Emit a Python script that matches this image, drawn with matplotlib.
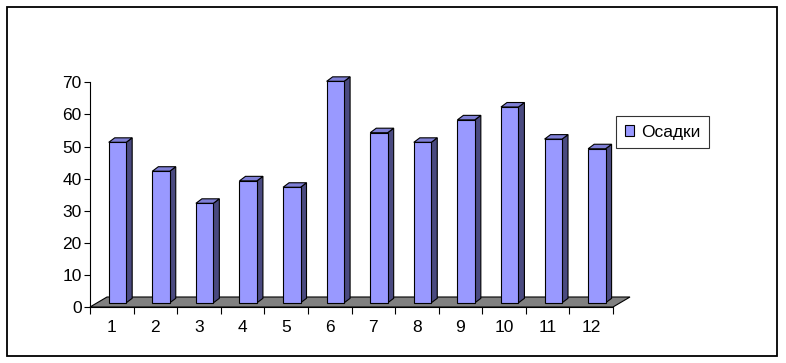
import matplotlib
matplotlib.use("Agg")
import matplotlib.pyplot as plt
from matplotlib.patches import Polygon, Rectangle

plt.rcParams['font.family'] = ['Liberation Sans', 'DejaVu Sans']

# data
months = ['1', '2', '3', '4', '5', '6', '7', '8', '9', '10', '11', '12']
osadki = [50, 41, 31, 38, 36, 69, 53, 50, 57, 61, 51, 48]
series_name = 'Осадки'
yticks = [0, 10, 20, 30, 40, 50, 60, 70]

front_c = '#9999ff'
side_c = '#4a4a80'
top_c = '#7f7fd6'
floor_c = '#808080'

W, H = 786, 363
fig = plt.figure(figsize=(W / 100, H / 100), dpi=100)
ax = fig.add_axes([90 / W, (H - 307) / H, 523 / W, 224.7 / H])
ax.set_xlim(0, 12)
ax.set_ylim(0, 70)

# pseudo 3d offsets (data units)
px_x = 523 / 12.0
px_y = 224.7 / 70.0
fdx, fdy = 17 / px_x, 10 / px_y      # floor depth
bdx, bdy = 6 / px_x, 4.5 / px_y      # bar depth
base = 1.3                           # bars sit inside the floor
bw = 0.40
x0 = 0.43

# floor
floor = Polygon([(0, 0), (12, 0), (12 + fdx, fdy), (fdx, fdy)], closed=True,
                facecolor=floor_c, edgecolor='black', lw=0.8, clip_on=False, zorder=1)
ax.add_patch(floor)

xs = [i + x0 for i in range(len(osadki))]
ax.bar(xs, osadki, width=bw, bottom=base, align='edge', color=front_c,
       edgecolor='black', linewidth=0.8, zorder=3, clip_on=False, label=series_name)
for x, v in zip(xs, osadki):
    t = base + v
    side = Polygon([(x + bw, base), (x + bw + bdx, base + bdy), (x + bw + bdx, t + bdy), (x + bw, t)],
                   closed=True, facecolor=side_c, edgecolor='black', lw=0.8, clip_on=False, zorder=2)
    top = Polygon([(x, t), (x + bw, t), (x + bw + bdx, t + bdy), (x + bdx, t + bdy)],
                  closed=True, facecolor=top_c, edgecolor='black', lw=0.8, clip_on=False, zorder=2)
    ax.add_patch(side)
    ax.add_patch(top)

for s in ['top', 'right']:
    ax.spines[s].set_visible(False)
for s in ['left', 'bottom']:
    ax.spines[s].set_linewidth(0.8)
    ax.spines[s].set_zorder(0.5)

ax.set_yticks(yticks)
ax.tick_params(axis='y', length=4, width=0.8, pad=2, labelsize=12.5)
ax.set_xticks(range(13))
ax.set_xticklabels([])
ax.set_xticks([i + 0.5 for i in range(12)], minor=True)
ax.set_xticklabels(months, minor=True)
ax.tick_params(axis='x', which='major', length=5, width=0.8)
ax.tick_params(axis='x', which='minor', length=0, pad=9.5, labelsize=12.5)
ax.patch.set_alpha(0)

leg = fig.legend(loc='upper left', bbox_to_anchor=(616 / W, 1 - 116 / H),
                 frameon=True, fancybox=False, edgecolor='black', fontsize=12.5,
                 handlelength=0.55, handleheight=0.55, handletextpad=0.4,
                 borderpad=0.5, borderaxespad=0)
leg.get_frame().set_linewidth(0.8)

fig.add_artist(Rectangle((7 / W, 7 / H), 770 / W, 349 / H, transform=fig.transFigure,
                         fill=False, edgecolor='black', lw=1.3))

fig.savefig('out.png', dpi=100)
